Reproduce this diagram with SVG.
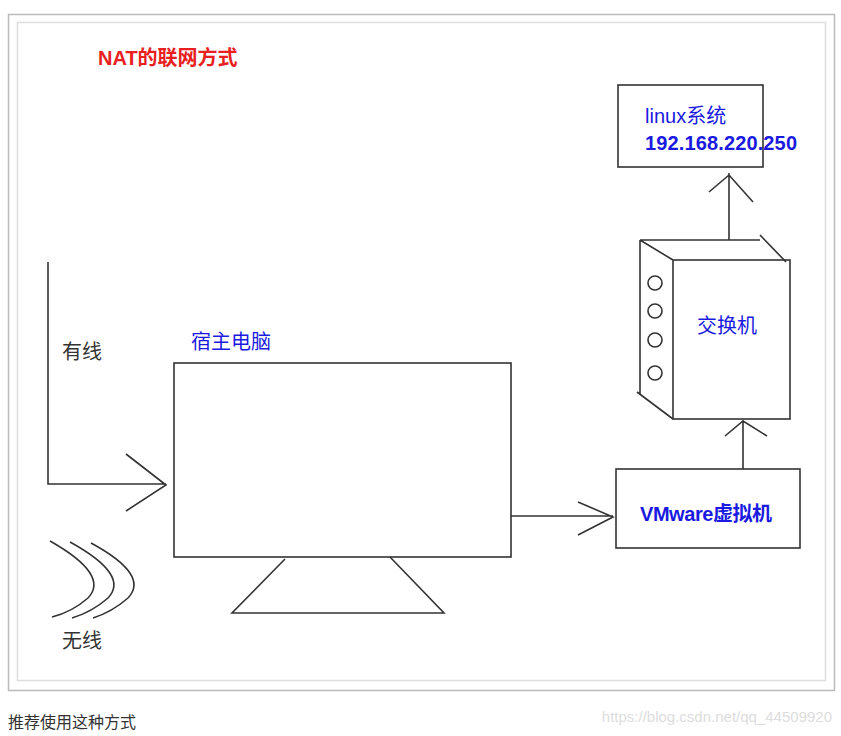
<svg xmlns="http://www.w3.org/2000/svg" width="841" height="736" viewBox="0 0 841 736">
<style>
.l{fill:none;stroke:#333;stroke-width:1.6}
.t{font-family:"Liberation Sans","Noto Sans CJK SC",sans-serif;font-size:20px}
.b{fill:#1a1ae0}
</style>
<rect width="841" height="736" fill="#fff"/>
<rect x="8.5" y="14.5" width="826" height="676" fill="none" stroke="#bbb" stroke-width="1.5"/>
<rect x="17.5" y="22.5" width="808" height="658" fill="none" stroke="#ddd" stroke-width="1.5"/>
<text x="98" y="65" class="t" fill="#e82020" font-weight="bold">NAT的联网方式</text>
<g id="linux"><rect x="618" y="85" width="145" height="82" class="l"/>
<text x="645" y="123" class="t b">linux系统</text><text x="645" y="150" class="t b" font-weight="bold" textLength="152">192.168.220.250</text></g>
<g id="switch">
<path class="l" d="M640 240H760M760 235L786 262M640 240V395M640 240L673 260M637 392L673 419"/>
<rect x="673" y="260" width="117" height="159" class="l"/>
<circle cx="655" cy="283" r="7" class="l"/><circle cx="655" cy="311" r="7" class="l"/><circle cx="655" cy="340" r="7" class="l"/><circle cx="655" cy="373" r="7" class="l"/>
<text x="697" y="333" class="t b">交换机</text></g>
<g id="vmware"><rect x="616" y="469" width="184" height="79" class="l"/>
<text x="640" y="521" class="t b" font-weight="bold" textLength="132">VMware虚拟机</text></g>
<g id="pc"><rect x="174" y="363" width="337" height="194" class="l"/>
<path class="l" d="M285 559L232 613H444L390 557"/>
<text x="191" y="349" class="t b">宿主电脑</text></g>
<g id="connectors">
<path class="l" d="M729 240V173M709 192L729 175L753 202"/>
<path class="l" d="M743 469V420M725 436L743 421L767 436"/>
<path class="l" d="M511 516H613M578 502L613 517L578 535"/>
<path class="l" d="M48 262V484H166M126 454L166 485L126 511"/>
</g>
<g id="wireless" class="l">
<path d="M50 541Q110 575 88 598Q72 612 52 617"/>
<path d="M70 542Q130 575 108 598Q92 612 72 618"/>
<path d="M91 543Q150 575 128 598Q112 612 93 618"/>
</g>
<text x="62" y="359" class="t" fill="#333">有线</text>
<text x="62" y="648" class="t" fill="#333">无线</text>
<text x="8" y="728" font-family="Liberation Sans,Noto Sans CJK SC,sans-serif" font-size="16" fill="#333">推荐使用这种方式</text>
<text x="832" y="722" text-anchor="end" font-family="Liberation Sans,sans-serif" font-size="15" fill="#ddd">https://blog.csdn.net/qq_44509920</text>
</svg>
